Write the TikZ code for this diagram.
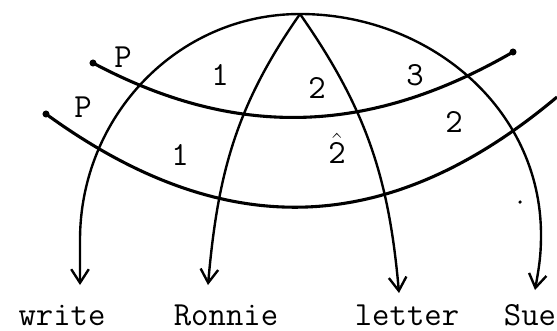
\documentclass[tikz,border=0pt]{standalone}
\usepackage{amsmath}
\usepackage{tikz}
\usetikzlibrary{arrows.meta}

\begin{document}
\begin{tikzpicture}[x=0.025cm, y=-0.025cm,
    word/.style={font=\fontsize{24}{28}\selectfont\ttfamily, anchor=base, inner sep=0pt},
    tag/.style={font=\fontsize{24}{28}\selectfont\ttfamily, inner sep=0pt},
    arc/.style={-{Straight Barb[length=3.4mm, width=4.4mm]}, line width=1.7pt},
    band/.style={line width=2.2pt},
    enddot/.style={circle, fill, inner sep=0pt, minimum size=5pt},
    speck/.style={circle, fill, inner sep=0pt, minimum size=2.5pt}
]
\useasboundingbox (0,0) rectangle (557,330);

% Root point and the words below
\coordinate (top) at (300,14);
\node[word] (write) at (62,325) {write};
\node[word] (ronnie) at (226,325) {Ronnie};
\node[word] (letter) at (407,325) {letter};
\node[word] (sue) at (530,325) {Sue};

% Arrow tips and bends
\coordinate (writebend) at (80,240);
\coordinate (writetip) at (80,285);
\coordinate (ronnietip) at (208,285);
\coordinate (lettertip) at (399,293);
\coordinate (suebend) at (541,235);
\coordinate (suetip) at (535,290);

% Arcs from the root down to the words
\draw[arc] (top) to[out=180, in=90] (writebend) -- (writetip);
\draw[arc] (top) to[out=235, in=85] (ronnietip);
\draw[arc] (top) to[out=-55, in=95] (lettertip);
\draw[arc] (top) to[out=0, in=90] (suebend) to[out=270, in=80] (suetip);

% Crossing bands
\node[enddot] (bandAstart) at (93,63) {};
\node[enddot] (bandAend) at (513,52) {};
\node[enddot] (bandBstart) at (46,114) {};
\coordinate (bandBend) at (557,97);
\draw[band] (bandAstart.center) to[out=-28, in=210] (bandAend.center);
\draw[band] (bandBstart.center) to[out=-36, in=220, looseness=1.1] (bandBend);

% Labels in the cells
\node[tag] (pA) at (123,57) {P};
\node[tag] (pB) at (83,107) {P};
\node[tag] (oneA) at (220,75) {1};
\node[tag] (oneB) at (180,155) {1};
\node[tag] (twoA) at (317,88) {2};
\node[tag, anchor=base] (twohat) at (337,163) {$\hat{\text{2}}$};
\node[tag] (three) at (415,75) {3};
\node[tag] (twoB) at (454,122) {2};

\node[speck] (speck) at (520,202) {};
\end{tikzpicture}
\end{document}
